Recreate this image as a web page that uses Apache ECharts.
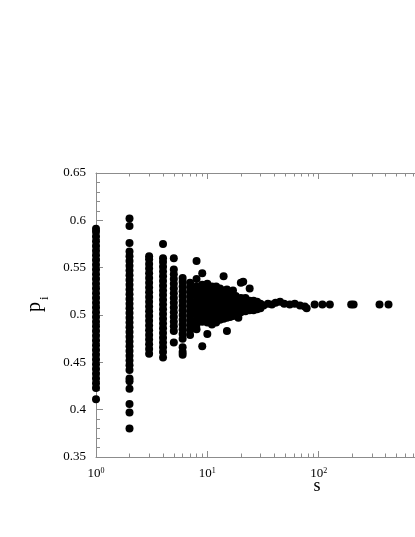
<!DOCTYPE html>
<html>
<head>
<meta charset="utf-8">
<script src="https://cdn.jsdelivr.net/npm/echarts@6/dist/echarts.min.js"></script>
<style>
  html, body { margin: 0; padding: 0; background: #fff; }
  #chart { width: 415px; height: 537px; }
</style>
</head>
<body>
<div id="chart"></div>
<script>
// dense columns at small s
const colS = [1, 2, 3, 4, 5, 6, 7, 8];
const colP = [
  [0.411, 0.423, 0.428, 0.433, 0.438, 0.443, 0.448, 0.453, 0.458, 0.463, 0.468, 0.473, 0.478, 0.483, 0.488,
   0.493, 0.498, 0.503, 0.508, 0.513, 0.518, 0.523, 0.528, 0.533, 0.538, 0.543, 0.548, 0.553, 0.558, 0.563,
   0.568, 0.573, 0.578, 0.583, 0.588, 0.591],
  [0.380, 0.397, 0.406, 0.422, 0.430, 0.433, 0.442, 0.447, 0.452, 0.457, 0.462, 0.467, 0.472, 0.477, 0.482,
   0.487, 0.492, 0.497, 0.502, 0.507, 0.512, 0.517, 0.522, 0.527, 0.532, 0.537, 0.542, 0.547, 0.552, 0.557,
   0.562, 0.567, 0.576, 0.594, 0.602],
  [0.459, 0.464, 0.469, 0.474, 0.479, 0.484, 0.489, 0.494, 0.499, 0.504, 0.509, 0.514, 0.519, 0.524, 0.529,
   0.534, 0.539, 0.544, 0.549, 0.554, 0.559, 0.562],
  [0.455, 0.461, 0.466, 0.471, 0.476, 0.481, 0.486, 0.491, 0.496, 0.501, 0.506, 0.511, 0.516, 0.521, 0.526,
   0.531, 0.536, 0.541, 0.546, 0.551, 0.556, 0.560, 0.575],
  [0.471, 0.483, 0.488, 0.493, 0.498, 0.503, 0.508, 0.513, 0.518, 0.523, 0.528, 0.533, 0.538, 0.543, 0.548,
   0.560],
  [0.458, 0.461, 0.466, 0.475, 0.480, 0.485, 0.490, 0.495, 0.500, 0.505, 0.510, 0.515, 0.520, 0.525, 0.530,
   0.535, 0.539],
  [0.479, 0.484, 0.489, 0.494, 0.499, 0.504, 0.509, 0.514, 0.519, 0.524, 0.529, 0.534],
  [0.485, 0.490, 0.495, 0.500, 0.505, 0.510, 0.515, 0.520, 0.525, 0.530, 0.538, 0.557]
];

// the blob between s = 9 and 30
const blobS = [9, 10, 11, 12, 13, 14, 15, 16, 17, 18, 19, 20, 21, 22, 24, 26, 28, 30];
const blobP = [
  [0.467, 0.493, 0.498, 0.503, 0.508, 0.513, 0.518, 0.523, 0.528, 0.532, 0.544],
  [0.480, 0.492, 0.497, 0.502, 0.507, 0.512, 0.517, 0.522, 0.527, 0.533],
  [0.490, 0.495, 0.500, 0.505, 0.510, 0.515, 0.520, 0.525, 0.530],
  [0.492, 0.497, 0.502, 0.507, 0.512, 0.517, 0.522, 0.527, 0.530],
  [0.495, 0.500, 0.505, 0.510, 0.515, 0.520, 0.525, 0.528],
  [0.496, 0.501, 0.506, 0.511, 0.516, 0.521, 0.526, 0.541],
  [0.483, 0.497, 0.502, 0.507, 0.512, 0.517, 0.522, 0.527],
  [0.498, 0.503, 0.508, 0.513, 0.518, 0.523],
  [0.499, 0.504, 0.509, 0.514, 0.519, 0.526],
  [0.500, 0.505, 0.510, 0.515, 0.520],
  [0.497, 0.502, 0.507, 0.512, 0.517],
  [0.503, 0.508, 0.513, 0.518, 0.534],
  [0.505, 0.510, 0.515, 0.535],
  [0.504, 0.509, 0.514, 0.518],
  [0.505, 0.510, 0.515, 0.528],
  [0.505, 0.510, 0.515],
  [0.506, 0.511, 0.514],
  [0.507, 0.512]
];

// sparse tail at large s
const tailS = [32, 35, 38, 41, 45, 49, 55, 61, 68, 75, 78, 92, 108, 126, 196, 206, 352, 424];
const tailP = [0.510, 0.512, 0.511, 0.513, 0.514, 0.512, 0.511, 0.512, 0.510, 0.509, 0.507,
               0.511, 0.511, 0.511, 0.511, 0.511, 0.511, 0.511];

const majorX = [1, 10, 100, 1000];
const minorX = [2, 3, 4, 5, 6, 7, 8, 9, 20, 30, 40, 50, 60, 70, 80, 90, 200, 300, 400, 500, 600, 700, 800, 900];

const points = [];
colS.forEach((s, i) => colP[i].forEach((p) => points.push([s, p])));
blobS.forEach((s, i) => blobP[i].forEach((p) => points.push([s, p])));
tailS.forEach((s, i) => points.push([s, tailP[i]]));

const serif = "'Liberation Serif', 'Times New Roman', Times, serif";
const axisGray = "#8c8c8c";

function logAxis(position, ticks, len, withLine, withLabel) {
  return {
    type: "log",
    logBase: 10,
    min: 1,
    max: 1000,
    position: position,
    axisLine: { show: withLine, onZero: false, lineStyle: { color: axisGray, width: 1 } },
    axisTick: { show: true, inside: true, length: len, customValues: ticks, lineStyle: { color: axisGray, width: 1 } },
    axisLabel: {
      show: withLabel,
      customValues: majorX,
      margin: 10,
      color: "#000",
      fontFamily: serif,
      fontSize: 13,
      formatter: (v) => "10{e|" + Math.round(Math.log10(v)) + "}",
      rich: { e: { fontFamily: serif, fontSize: 8, verticalAlign: "top", color: "#000" } },
    },
    splitLine: { show: false },
  };
}

const chart = echarts.init(document.getElementById("chart"));
chart.setOption({
  animation: false,
  backgroundColor: "#fff",
  grid: { left: 96, top: 173, width: 334, height: 284, containLabel: false, outerBoundsMode: "none" },
  xAxis: [
    logAxis("bottom", majorX, 6, true, true),
    logAxis("bottom", minorX, 3.5, false, false),
    logAxis("top", majorX, 6, true, false),
    logAxis("top", minorX, 3.5, false, false),
  ],
  yAxis: {
    type: "value",
    min: 0.35,
    max: 0.65,
    interval: 0.05,
    axisLine: { show: true, onZero: false, lineStyle: { color: axisGray, width: 1 } },
    axisTick: { show: true, inside: true, length: 7, lineStyle: { color: axisGray, width: 1 } },
    minorTick: { show: true, splitNumber: 5, length: 4, lineStyle: { color: axisGray, width: 1 } },
    axisLabel: { margin: 10, color: "#000", fontFamily: serif, fontSize: 13 },
    splitLine: { show: false },
    minorSplitLine: { show: false },
  },
  graphic: [
    {
      type: "text", x: 45, y: 312, rotation: Math.PI / 2,
      style: { text: "p", font: "20px " + serif, fill: "#000", align: "left", verticalAlign: "bottom" },
    },
    {
      type: "text", x: 51, y: 300, rotation: Math.PI / 2,
      style: { text: "i", font: "13px " + serif, fill: "#000", align: "left", verticalAlign: "bottom" },
    },
    {
      type: "text", x: 317, y: 486,
      style: { text: "s", font: "18px " + serif, fill: "#000", align: "center", verticalAlign: "middle" },
    },
  ],
  series: [
    {
      type: "scatter",
      xAxisIndex: 0,
      symbol: "circle",
      symbolSize: 8,
      itemStyle: { color: "#000", opacity: 1, borderWidth: 0 },
      data: points,
    },
  ],
});
</script>
</body>
</html>
